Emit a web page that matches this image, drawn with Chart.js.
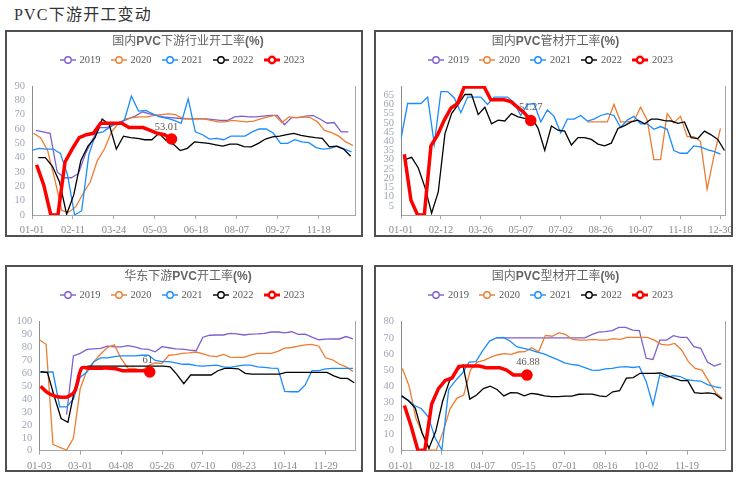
<!DOCTYPE html>
<html>
<head>
<meta charset="utf-8">
<title>PVC下游开工变动</title>
<script src="https://cdn.jsdelivr.net/npm/chart.js@4.4.0/dist/chart.umd.min.js"></script>
<style>
body{margin:0;background:#fff;width:739px;height:478px;overflow:hidden;position:relative;font-family:"Liberation Serif","Noto Sans CJK SC",serif;}
#title{position:absolute;left:14px;top:6px;font-size:16px;line-height:18px;color:#333;letter-spacing:1.2px;}
.frame{position:absolute;border:2px solid #505050;box-sizing:border-box;pointer-events:none;}
.ptitle{position:absolute;text-align:center;font-family:"Noto Sans CJK SC",sans-serif;font-size:12px;line-height:14px;color:#636363;}
.ptitle b{font-family:"Liberation Sans",Arial,sans-serif;font-weight:bold;}
.legend{position:absolute;display:flex;justify-content:center;align-items:center;font-size:10.5px;line-height:12px;color:#595959;height:12px;}
.legend .item{display:flex;align-items:center;margin:0 5px;}
.legend svg{margin-right:4px;}
canvas{position:absolute;}
</style>
</head>
<body>
<div id="title">PVC下游开工变动</div>

<canvas id="c1" width="358" height="207" style="left:5px;top:30px"></canvas>
<canvas id="c2" width="359" height="207" style="left:374px;top:30px"></canvas>
<canvas id="c3" width="358" height="207" style="left:5px;top:265px"></canvas>
<canvas id="c4" width="359" height="207" style="left:374px;top:265px"></canvas>

<div class="frame" style="left:5px;top:30px;width:358px;height:207px"></div>
<div class="frame" style="left:374px;top:30px;width:359px;height:207px"></div>
<div class="frame" style="left:5px;top:265px;width:358px;height:207px"></div>
<div class="frame" style="left:374px;top:265px;width:359px;height:207px"></div>

<div class="ptitle" style="left:9px;top:33px;width:358px">国内<b>PVC</b>下游行业开工率<b>(%)</b></div>
<div class="ptitle" style="left:376px;top:33px;width:359px">国内<b>PVC</b>管材开工率<b>(%)</b></div>
<div class="ptitle" style="left:9px;top:268px;width:358px">华东下游<b>PVC</b>开工率<b>(%)</b></div>
<div class="ptitle" style="left:376px;top:268px;width:359px">国内<b>PVC</b>型材开工率<b>(%)</b></div>

<div class="legend" id="l1" style="left:3px;top:54px;width:358px"></div>
<div class="legend" id="l2" style="left:371px;top:54px;width:359px"></div>
<div class="legend" id="l3" style="left:3px;top:289px;width:358px"></div>
<div class="legend" id="l4" style="left:371px;top:289px;width:359px"></div>

<script>
var years = ['2019', '2020', '2021', '2022', '2023'];
var colors = ['#7f5fcf', '#ed7d31', '#1a8cff', '#000000', '#ff0000'];

// 国内PVC下游行业开工率
var p1Labels = ['01-01', '02-11', '03-24', '05-03', '06-18', '08-07', '09-27', '11-18'];
var p1y2019 = [59,58,57,30,26,26,29,43,53,61,61,63,65,67,69,72,70.5,69.5,68.5,68,67.5,67,67,67,67,66.5,66,66,68.5,69,68.5,68.5,69,69.5,69.5,63,68,68,69,69.5,67,64,64.5,58,58];
var p1y2020 = [57,54,45,25,3,2,6,15,23,38,46,58,64,67,68,68.5,68.5,69.5,70,70.5,70,67.5,67,67,67,66,65,65,66,65.5,65,65.5,67,68.5,69.5,64.5,68.5,68,68.5,68,65,59,57.5,55,51,48.5];
var p1y2021 = [45,46.5,46,46,43,28,0,3,42,57,58,61.5,64,66,83,72.5,73,70.5,68.5,67.5,66,64,81,58,56,53,53.5,52.5,55,55,55,58,60,60,57,50,50,52.5,51,50.5,47,46,46.5,48,46,44];
var p1y2022 = [40,40,34,23,0.5,14,38,48,54,67,63,46,55,54,53.5,52.5,52.5,57,52,49.5,45,46.5,51,50.5,50,49,48,49.5,49.5,47.7,47.5,50,53,54.5,55,56,57,55.5,54.7,54,53.5,47.5,48,46,41];
var p1y2023 = [35,21,0,0,37,46,54,56,57,64,64,64,64,61,61,61,59,57,56,53.01];
var p1Start = [0.55, 0.2, 0, 0.88, 0.65];

// 国内PVC管材开工率
var p2Labels = ['01-01', '02-12', '03-26', '05-07', '07-02', '08-26', '10-07', '11-18', '12-30'];
var p2y2019 = [];
var p2y2020 = [50.5,50.5,50.5,50.5,60,50.5,50.5,51,58.5,51.5,30,30,55,50,53.5,42.5,42.5,40,14,31.5,47];
var p2y2021 = [41.5,60.5,60.5,60.5,64,38.5,67,67,63.5,55.5,64,64,64,60,64,64,64,61,54,60,60.5,50.5,57,53.5,44.5,52,52,54,51,52,54,55,54,47.5,51.5,53.5,49.5,49.5,46.5,48,46.5,35,33.5,33.5,37.5,37,35.5,34.5,33];
var p2y2022 = [30,31.3,25.5,15,1,12.5,44,55,60,65.5,65.4,54.5,58.5,49.5,51.5,51,55,53.3,52.4,53,47,35,48.3,46,45.5,38,42,42,41,38.5,37.5,39,47,48.5,50.5,51.5,49.5,52,52,51.2,51,49.7,50.5,42,41.5,45.5,43.5,41,35];
var p2y2023 = [33,8,0,0,37.5,43.5,51.5,58,60.5,69.5,69.5,69.5,69.5,62.5,62.5,62.5,61.5,58.5,55.5,51.27];
var p2Start = [0, 28, 0, 0.6, 0.5];

// 华东下游PVC开工率
var p3Labels = ['01-03', '03-01', '04-08', '05-26', '07-10', '08-23', '10-14', '11-29'];
var p3y2019 = [28,73.5,75.5,78.5,79,79.3,81,80.5,80.5,81.5,80.5,79,78.5,76.7,80.6,79.8,79,78.8,78,77.5,88,89.5,89.7,89.7,91,90.5,89.7,90.4,90.5,91,92,92,91.3,92.2,90.2,90.4,88,86,86.5,86.6,86.6,88.5,86.6];
var p3y2020 = [86,82.5,5,2.5,0.5,9.6,48,62.5,69,75,80,82,71.5,63.8,63.8,62,66,68,67.7,74,74.5,75.5,75.8,76.5,75,73.5,73,74.7,72.5,72.4,72.4,74,75.5,75.5,75.5,77,79.5,80,81,82,82.4,81,72,70.5,67.2,65,61.5];
var p3y2021 = [61,61,61,34,34,40,57,61,69,72,72,73,73.5,73.5,73.5,74,74,70,69,69,68,67,67,66,65.6,66,66.4,65,64.6,65.5,66.4,66.4,65,64.6,64,63.8,46,45.7,45.7,51,62,62,63.5,63.8,63.8,63.8,63.8];
var p3y2022 = [61.2,60.5,42,25,22,48,64,65.5,65.5,65.5,65.5,65.5,65.5,65.5,65.5,65.5,65.5,65.5,65.5,65,59,52,58.7,58.7,58.7,58.7,62,63.8,63.8,63.5,60,59.4,59.4,59.4,59.4,59.4,60.7,60.7,60.7,60.7,60.7,60.7,60.7,58,56,56,52.7];
var p3y2023 = [50,45,42.5,41.5,42,46,64,64,64,64,64,63.5,62,62,62,62,61];
var p3Start = [4, 0, 0, 0.2, 0.2];

// 国内PVC型材开工率
var p4Labels = ['01-01', '02-18', '04-07', '05-15', '07-01', '08-16', '10-02', '11-19'];
var p4y2019 = [70,70,70,70,70,70,70,70,70,70,70,70,70,70,72,73.5,73.8,74.5,76.5,76.5,74.8,74.5,57.3,56.6,68.6,68.6,71.3,70.3,70.3,64.5,63.5,55,52.5,54];
var p4y2020 = [51,40,20,10,0.4,0.5,12,26,32.5,34.5,50,55,56,58,59.5,60.2,59.7,61.2,61.4,63.9,61.4,71.5,71,73.2,72,69,68.6,68.6,69,68.6,68.6,69.5,69,70.3,70.3,70.3,70.3,68.6,66,65.5,66.5,62.5,55.2,51,50,43,36,32.5];
var p4y2021 = [34,31.5,28,26,21,8,0.4,38,43.5,48,55,55.2,62,68,70,70.3,68,64.5,63.5,62.5,61.2,60,58.2,56.5,54.5,53.6,53,51.5,50,49.8,50.7,51,51.8,52.1,51.6,52.1,43,28.3,47,45.5,46.5,46,44,43.5,43.2,41,39.7,39];
var p4y2022 = [34,31,26.5,11,1.5,12,30.5,43,49.5,53,32,34.5,38.5,40,38,34,36,35.8,34,35.5,35,34,33.5,33.5,33.8,33.8,35,35.1,35.1,34,33.5,36.5,37.2,45,45.3,48,48,48,48.2,46.5,45,43.4,43.4,36,35.5,35.8,35.2,32];
var p4y2023 = [28,15,0,0.5,29,38.5,43.6,45.1,52.3,52.5,52.5,52.5,51.5,51.5,51.5,50,47,47,46.88];
var p4Start = [14, 0.2, 0, 0.1, 0.5];

// legends
function buildLegend(id) {
  var el = document.getElementById(id);
  years.forEach(function (y, k) {
    var now = k === 4;
    var item = document.createElement('span');
    item.className = 'item';
    item.innerHTML = '<svg width="16" height="10"><line x1="0" y1="5" x2="16" y2="5" stroke="' + colors[k] +
      '" stroke-width="' + (now ? 3 : 1.4) + '"/><circle cx="8" cy="5" r="3.2" fill="#fff" stroke="' + colors[k] +
      '" stroke-width="' + (now ? 2.4 : 1.4) + '"/></svg><span>' + y + '</span>';
    el.appendChild(item);
  });
}
['l1', 'l2', 'l3', 'l4'].forEach(buildLegend);

// label next to the latest 2023 point
var lastLabel = {
  id: 'lastLabel',
  afterDatasetsDraw: function (chart, args, o) {
    var meta = chart.getDatasetMeta(4);
    var pt = meta.data[meta.data.length - 1];
    var d = chart.data.datasets[4].data;
    var ctx = chart.ctx;
    ctx.save();
    ctx.font = '10.5px "Liberation Serif"';
    ctx.fillStyle = '#595959';
    ctx.textAlign = 'center';
    ctx.textBaseline = 'middle';
    ctx.fillText(String(d[d.length - 1].y), pt.x + o.dx, pt.y + o.dy);
    ctx.restore();
  }
};

function makeChart(id, box, labels, per, xMax, yMax, yStep, hideEnds, series, starts, extra) {
  var cv = document.getElementById(id);
  var W = cv.width, H = cv.height;
  var datasets = series.map(function (arr, k) {
    var now = k === 4;
    return {
      label: years[k],
      data: arr.map(function (v, i) { return { x: starts[k] + i, y: v }; }),
      borderColor: colors[k],
      backgroundColor: colors[k],
      borderWidth: now ? 3.5 : 1.3,
      pointRadius: arr.map(function (v, i) { return now && i === arr.length - 1 ? 4 : 0; }),
      pointHoverRadius: 0,
      tension: now ? (extra.tension || 0) : 0,
      order: 4 - k
    };
  });
  var tickFont = { family: 'Liberation Serif', size: 10.5 };
  return new Chart(cv, {
    type: 'line',
    data: { datasets: datasets },
    plugins: [lastLabel],
    options: {
      responsive: false,
      animation: false,
      devicePixelRatio: 1,
      events: [],
      layout: { padding: { top: box.t, right: W - box.r, left: 0, bottom: 0 } },
      plugins: {
        legend: { display: false },
        tooltip: { enabled: false },
        lastLabel: { dx: extra.dx, dy: extra.dy }
      },
      scales: {
        x: {
          type: 'linear', min: 0, max: xMax,
          afterBuildTicks: function (s) {
            s.ticks = labels.map(function (l, k) { return { value: k * per }; });
          },
          afterFit: function (s) { s.height = H - box.b; s.paddingLeft = 0; s.paddingRight = 0; },
          ticks: {
            autoSkip: false, maxRotation: 0, padding: 5, color: '#8c8c8c', font: tickFont,
            callback: function (v, i) { return labels[i]; }
          },
          grid: { drawOnChartArea: false, drawTicks: true, tickLength: 4, color: '#a6a6a6' },
          border: { color: '#a6a6a6' }
        },
        y: {
          min: 0, max: yMax,
          afterFit: function (s) { s.width = box.l; },
          afterBuildTicks: function (s) {
            var t = [];
            for (var v = 0; v <= yMax; v += yStep) t.push({ value: v });
            s.ticks = t;
          },
          ticks: {
            autoSkip: false, padding: 7, color: '#a0a6b4', font: tickFont,
            callback: function (v) { return hideEnds && (v === 0 || v === yMax) ? '' : v; }
          },
          grid: { display: false, drawTicks: false },
          border: { color: '#8c8c8c' }
        },
        y2: {
          position: 'right', min: 0, max: yMax,
          afterFit: function (s) { s.width = 0; },
          ticks: { display: false },
          grid: { display: false, drawTicks: false },
          border: { color: '#a6a6a6' }
        }
      }
    }
  });
}

makeChart('c1', { l: 27, r: 355, t: 56, b: 185 }, p1Labels, 5.77, 45.56, 90, 10, false,
  [p1y2019, p1y2020, p1y2021, p1y2022, p1y2023], p1Start, { dx: -5, dy: -12 });
makeChart('c2', { l: 27, r: 355.3, t: 56, b: 185 }, p2Labels, 6, 48.76, 70, 5, true,
  [p2y2019, p2y2020, p2y2021, p2y2022, p2y2023], p2Start, { dx: 0, dy: -13 });
makeChart('c3', { l: 34.3, r: 354.3, t: 56.7, b: 185.7 }, p3Labels, 6, 46.38, 100, 10, false,
  [p3y2019, p3y2020, p3y2021, p3y2022, p3y2023], p3Start, { dx: -2, dy: -12, tension: 0.35 });
makeChart('c4', { l: 27, r: 355.3, t: 56.7, b: 185.7 }, p4Labels, 6, 47.65, 80, 10, false,
  [p4y2019, p4y2020, p4y2021, p4y2022, p4y2023], p4Start, { dx: 1, dy: -13 });
</script>
</body>
</html>
